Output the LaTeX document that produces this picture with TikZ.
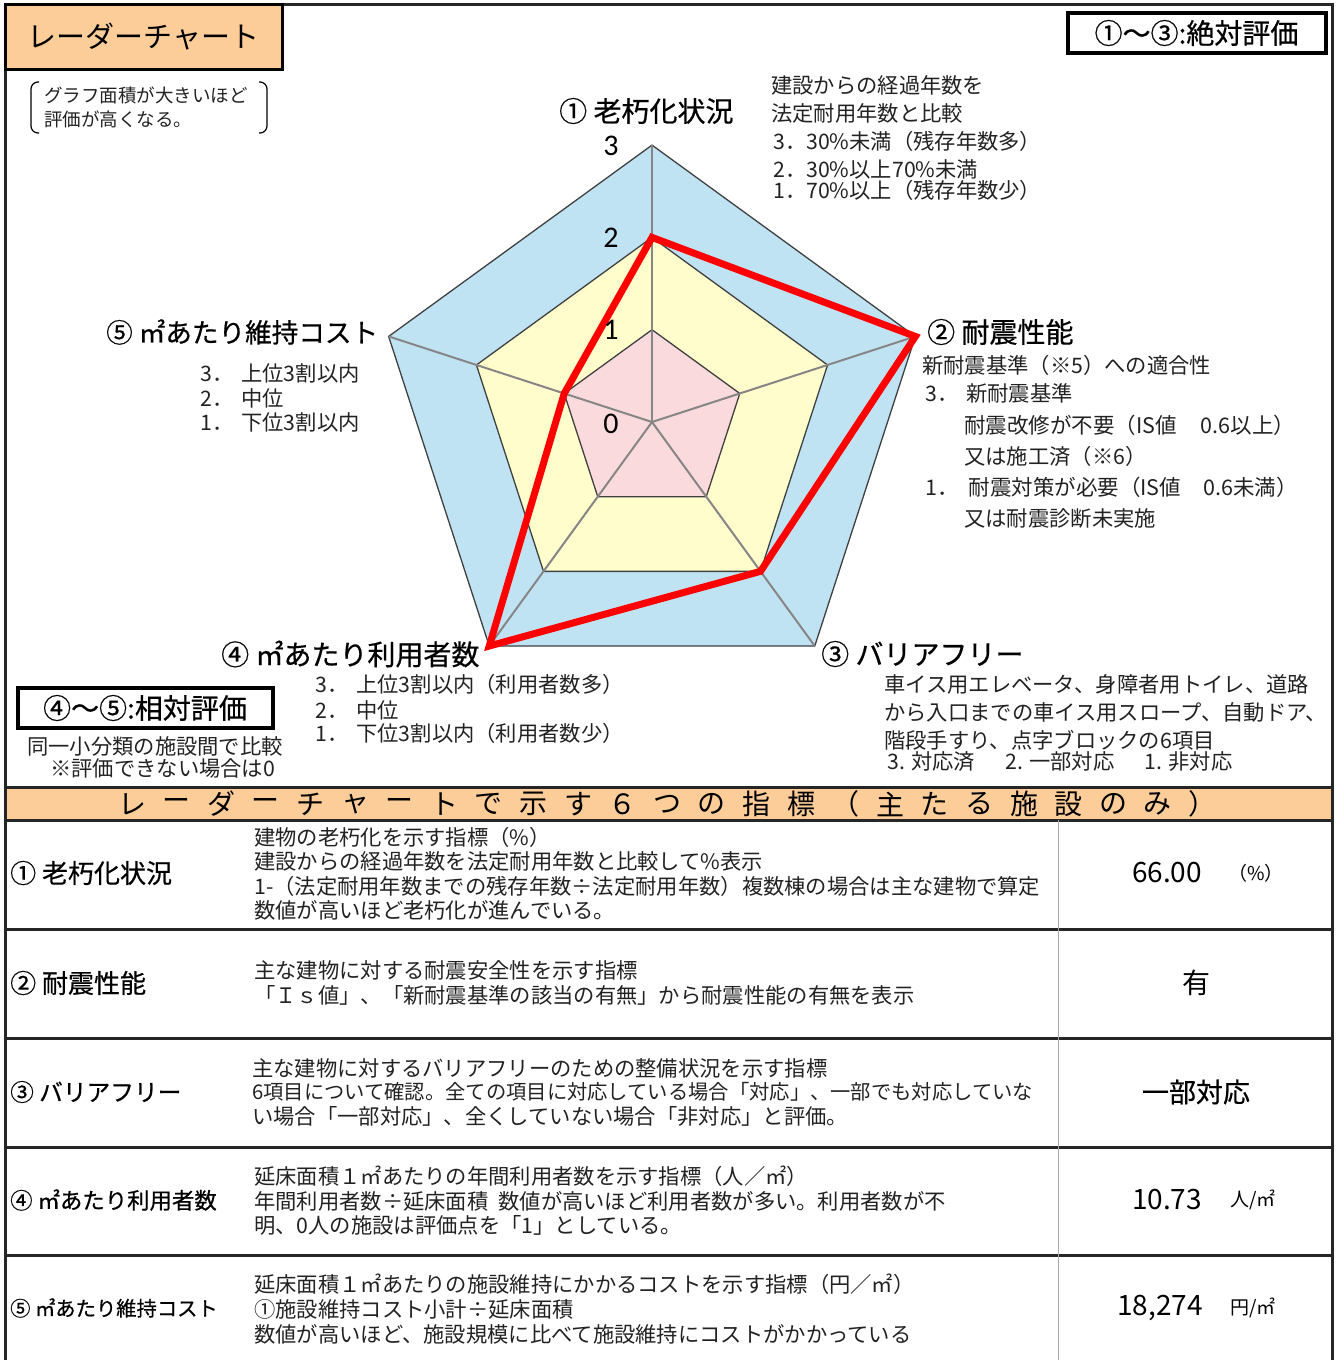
\documentclass[tikz,border=0pt]{standalone}
\usepackage{fontspec}
\setmainfont{Noto Sans CJK JP}
\newfontfamily\medfont[FakeBold=0.6]{Noto Sans CJK JP}
\newfontfamily\numfont{Carlito}
\definecolor{orng}{HTML}{FCCC99}
\definecolor{zpink}{HTML}{FADADD}
\definecolor{zyellow}{HTML}{FFFDCC}
\definecolor{zblue}{HTML}{C0E3F3}
\definecolor{gridline}{HTML}{404040}
\definecolor{spoke}{HTML}{868686}
\definecolor{txtcol}{HTML}{222222}
\begin{document}
\begin{tikzpicture}[x=1pt,y=-1pt,
  frameline/.style={draw=black!85, line width=3pt},
  axlab/.style={font=\medfont\fontsize{28}{30}\selectfont, anchor=west, inner sep=0},
  txt/.style={font=\fontsize{21.3}{24}\selectfont, anchor=west, inner sep=0, text=txtcol},
  desc/.style={font=\fontsize{21.3}{23}\selectfont, anchor=west, inner sep=0, text=txtcol},
  rowlab/.style={font=\medfont\fontsize{26}{28}\selectfont, anchor=west, inner sep=0},
  valtxt/.style={font=\fontsize{28}{30}\selectfont, inner sep=0},
  unittxt/.style={font=\fontsize{19}{21}\selectfont, anchor=west, inner sep=0},
  scalelab/.style={font=\numfont\fontsize{30}{32}\selectfont, inner sep=0},
  evalbox/.style={draw=black, line width=4pt, font=\medfont\fontsize{28}{30}\selectfont, inner sep=0},
  bandchar/.style={font=\fontsize{28}{30}\selectfont, inner sep=0}
]
\useasboundingbox (0,0) rectangle (1336,1360);

% ---------- frame ----------
\fill[orng] (5,787) rectangle (1332,820);
\draw[frameline] (5,1365) -- (5,4) -- (1332,4) -- (1332,1365);
\draw[frameline] (5,787) -- (1332,787);
\draw[frameline] (5,820) -- (1332,820);
\foreach \yy in {929,1038,1147,1255} \draw[frameline] (5,\yy) -- (1332,\yy);
\draw[spoke!70, line width=1pt] (1058,820) -- (1058,1362);

% ---------- title ----------
\node[draw=black, line width=3pt, fill=orng, minimum width=277pt, minimum height=65pt,
      font=\fontsize{29}{31}\selectfont, inner sep=0] (title) at (143.5,36.5) {レーダーチャート};

% note with brackets
\draw[line width=1.2pt, rounded corners=7pt] (39,82) -- (31,82) -- (31,133) -- (39,133);
\draw[line width=1.2pt, rounded corners=7pt] (259,82) -- (267,82) -- (267,133) -- (259,133);
\node[txt, font=\fontsize{18.5}{20}\selectfont] (note1) at (44,95) {グラフ面積が大きいほど};
\node[txt, font=\fontsize{18.5}{20}\selectfont] (note2) at (44,119) {評価が高くなる。};

% absolute / relative boxes
\node[evalbox, minimum width=258pt, minimum height=40pt] (absbox) at (1196.5,33) {①〜③:絶対評価};
\node[evalbox, minimum width=255pt, minimum height=40pt] (relbox) at (145,708) {④〜⑤:相対評価};
\node[txt] (rel1) at (27,746) {同一小分類の施設間で比較};
\node[txt] (rel2) at (50,768) {※評価できない場合は0};

% ---------- radar ----------
\begin{scope}[shift={(652,422)}, y=1pt]
  \def\R{92.3}
  \foreach \k in {0,...,4} {
    \coordinate (A\k) at ({90-72*\k}:{3*\R});
    \coordinate (B\k) at ({90-72*\k}:{2*\R});
    \coordinate (C\k) at ({90-72*\k}:{\R});
  }
  \coordinate (O) at (0,0);
  \fill[zblue] (A0)--(A1)--(A2)--(A3)--(A4)--cycle;
  \fill[zyellow] (B0)--(B1)--(B2)--(B3)--(B4)--cycle;
  \fill[zpink] (C0)--(C1)--(C2)--(C3)--(C4)--cycle;
  \draw[gridline, line width=1.3pt] (A0)--(A1)--(A2)--(A3)--(A4)--cycle;
  \draw[gridline, line width=1.3pt] (B0)--(B1)--(B2)--(B3)--(B4)--cycle;
  \draw[gridline, line width=1.3pt] (C0)--(C1)--(C2)--(C3)--(C4)--cycle;
  \foreach \k in {0,...,4} \draw[spoke, line width=2pt] (O) -- (A\k);
  \coordinate (D0) at (90:{2*\R});
  \coordinate (D1) at (18:{3*\R});
  \coordinate (D2) at (-54:{2*\R});
  \coordinate (D3) at (-126:{3*\R});
  \coordinate (D4) at (162:{\R});
  \draw[red, line width=7pt, line join=miter] (D0)--(D1)--(D2)--(D3)--(D4)--cycle;
\end{scope}

\node[scalelab] (s3) at (611,146) {3};
\node[scalelab] (s2) at (611,238) {2};
\node[scalelab] (s1) at (611,330) {1};
\node[scalelab] (s0) at (611,424) {0};

% axis labels and explanations
\node[axlab] (ax1) at (559,111) {① 老朽化状況};
\node[txt] (e1a) at (771,85) {建設からの経過年数を};
\node[txt] (e1b) at (771,113) {法定耐用年数と比較};
\node[txt] (e1c) at (773,141) {3．30\%未満（残存年数多）};
\node[txt] (e1d) at (773,169) {2．30\%以上70\%未満};
\node[txt] (e1e) at (773,190) {1．70\%以上（残存年数少）};

\node[axlab] (ax2) at (927,332) {② 耐震性能};
\node[txt] (e2a) at (922,365) {新耐震基準（※5）への適合性};
\node[txt] (e2b) at (925,393) {3．\hspace{8pt}新耐震基準};
\node[txt, font=\fontsize{21.5}{24}\selectfont] (e2c) at (964,425) {耐震改修が不要（IS値\hspace{24pt}0.6以上）};
\node[txt] (e2d) at (964,456) {又は施工済（※6）};
\node[txt, font=\fontsize{21.5}{24}\selectfont] (e2e) at (925,487) {1．\hspace{10pt}耐震対策が必要（IS値\hspace{22pt}0.6未満）};
\node[txt] (e2f) at (964,518) {又は耐震診断未実施};

\node[axlab] (ax3) at (821,654) {③ バリアフリー};
\node[txt] (e3a) at (884,684) {車イス用エレベータ、身障者用トイレ、道路};
\node[txt] (e3b) at (884,712) {から入口までの車イス用スロープ、自動ドア、};
\node[txt] (e3c) at (884,740) {階段手すり、点字ブロックの6項目};
\node[txt] (e3d) at (887,762) {3. 対応済\hspace{30pt}2. 一部対応\hspace{30pt}1. 非対応};

\node[axlab] (ax4) at (221,654) {④ ㎡あたり利用者数};
\node[txt] (e4a) at (315,684) {3．\hspace{8pt}上位3割以内（利用者数多）};
\node[txt] (e4b) at (315,710) {2．\hspace{8pt}中位};
\node[txt] (e4c) at (315,733) {1．\hspace{8pt}下位3割以内（利用者数少）};

\node[axlab, font=\medfont\fontsize{26.6}{29}\selectfont] (ax5) at (106,332) {⑤ ㎡あたり維持コスト};
\node[txt] (e5a) at (200,373) {3．\hspace{8pt}上位3割以内};
\node[txt] (e5b) at (200,398) {2．\hspace{8pt}中位};
\node[txt] (e5c) at (200,422) {1．\hspace{8pt}下位3割以内};

% ---------- table header band ----------
\foreach \c [count=\i] in {レ,ー,ダ,ー,チ,ャ,ー,ト,で,示,す,６,つ,の,指,標,（,主,た,る,施,設,の,み,）}
  \node[bandchar] (h\i) at ({132+(\i-1)*44.6},804) {\c};

% ---------- table rows ----------
\node[rowlab] (r1) at (10,873) {① 老朽化状況};
\node[desc] (r1a) at (254,837) {建物の老朽化を示す指標（\%）};
\node[desc] (r1b) at (254,861) {建設からの経過年数を法定耐用年数と比較して\%表示};
\node[desc] (r1c) at (254,886) {1-（法定耐用年数までの残存年数÷法定耐用年数）複数棟の場合は主な建物で算定};
\node[desc] (r1d) at (254,910) {数値が高いほど老朽化が進んでいる。};
\node[valtxt] (v1) at (1167,873) {66.00};
\node[unittxt] (u1) at (1228,873) {（\%）};

\node[rowlab] (r2) at (10,983) {② 耐震性能};
\node[desc] (r2a) at (254,970) {主な建物に対する耐震安全性を示す指標};
\node[desc] (r2b) at (254,995) {「Ｉｓ値」、「新耐震基準の該当の有無」から耐震性能の有無を表示};
\node[valtxt] (v2) at (1196,983) {有};

\node[rowlab, font=\medfont\fontsize{23.7}{26}\selectfont] (r3) at (10,1092) {③ バリアフリー};
\node[desc] (r3a) at (252,1068) {主な建物に対するバリアフリーのための整備状況を示す指標};
\node[desc, font=\fontsize{20.3}{23}\selectfont] (r3b) at (252,1092) {6項目について確認。全ての項目に対応している場合「対応」、一部でも対応していな};
\node[desc] (r3c) at (252,1116) {い場合「一部対応」、全くしていない場合「非対応」と評価。};
\node[valtxt, font=\medfont\fontsize{27}{29}\selectfont] (v3) at (1196,1092) {一部対応};

\node[rowlab, font=\medfont\fontsize{22.4}{25}\selectfont] (r4) at (10,1200) {④ ㎡あたり利用者数};
\node[desc] (r4a) at (254,1176) {延床面積１㎡あたりの年間利用者数を示す指標（人／㎡）};
\node[desc] (r4b) at (254,1201) {年間利用者数÷延床面積\hspace{10pt}数値が高いほど利用者数が多い。利用者数が不};
\node[desc] (r4c) at (254,1225) {明、0人の施設は評価点を「1」としている。};
\node[valtxt] (v4) at (1167,1200) {10.73};
\node[unittxt] (u4) at (1230,1200) {人/㎡};

\node[rowlab, font=\medfont\fontsize{20.3}{23}\selectfont] (r5) at (10,1308) {⑤ ㎡あたり維持コスト};
\node[desc] (r5a) at (254,1284) {延床面積１㎡あたりの施設維持にかかるコストを示す指標（円／㎡）};
\node[desc] (r5b) at (254,1309) {①施設維持コスト小計÷延床面積};
\node[desc] (r5c) at (254,1334) {数値が高いほど、施設規模に比べて施設維持にコストがかかっている};
\node[valtxt] (v5) at (1160,1308) {18,274};
\node[unittxt] (u5) at (1230,1308) {円/㎡};

\end{tikzpicture}
\end{document}
